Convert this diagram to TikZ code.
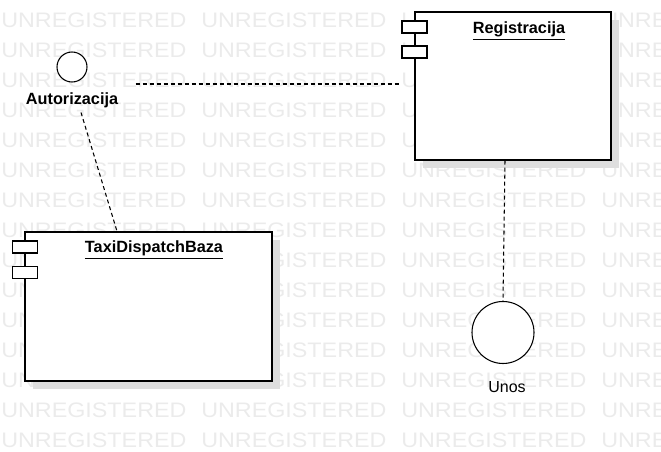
\documentclass[tikz,border=0pt]{standalone}
\usepackage{fontspec}
\setmainfont{Liberation Sans}
\usetikzlibrary{shadows, positioning}

\begin{document}
\begin{tikzpicture}[x=0.75pt,y=-0.75pt,align=center]
\tikzstyle{comp}=[rectangle,draw=black,line width=0.9pt,fill=white,general shadow={fill=black!13,shadow xshift=6pt,shadow yshift=-6pt}]
\tikzstyle{port}=[rectangle,draw=black,line width=0.9pt,fill=white,minimum width=18.75pt,minimum height=9pt,inner sep=0pt]
\tikzstyle{iface}=[circle,draw=black,line width=0.8pt,fill=white,inner sep=0pt]
\tikzstyle{title}=[font=\fontsize{12.2}{14}\selectfont\bfseries,anchor=base]
\tikzstyle{lbl}=[font=\fontsize{12}{14}\selectfont]
\tikzstyle{dep}=[line width=0.8pt,dash pattern=on 3pt off 2.25pt]
\tikzstyle{wm}=[text=black!8,font=\fontsize{15.75}{18}\selectfont,anchor=base west,inner sep=0pt]

\path[use as bounding box,clip] (0,0) rectangle (661,452);

% watermark rows
\foreach \r in {0,...,14}
  \foreach \c in {0,...,3}
    \node[wm] (wm-\r-\c) at (200*\c+1,28+30*\r) {\scalebox{1.11}[1]{UNREGISTERED}};

% components
\node[comp,minimum width=147pt,minimum height=111pt] (reg) at (513,86) {};
\node[port] (reg-p1) at (414.5,27) {};
\node[port] (reg-p2) at (414.5,52) {};
\node[title] (reg-t) at (519,33.5) {\underline{Registracija}};

\node[comp,minimum width=185.25pt,minimum height=111.75pt] (taxi) at (148.5,306.5) {};
\node[port] (taxi-p1) at (25,247) {};
\node[port] (taxi-p2) at (25,272.5) {};
\node[title] (taxi-t) at (154,253) {\underline{TaxiDispatchBaza}};

% interfaces
\node[iface,minimum size=22.5pt] (auth) at (72,67) {};
\node[lbl,font=\fontsize{12.2}{14}\selectfont\bfseries,below=4pt of auth] (auth-l) {Autorizacija};
\node[iface,minimum size=46.5pt] (unos) at (503,332.5) {};
\node[lbl,below=9.6pt of unos,xshift=3pt] (unos-l) {Unos};

\path
  ([xshift=36pt,yshift=-12.75pt]auth.east) edge [dep] ([yshift=-24pt]reg-p2.west)
  ([xshift=6.75pt]auth-l.south) edge [dep] ([xshift=-23.6pt]taxi.north)
  ([xshift=-6pt]reg.south) edge [dep] (unos.north);
\end{tikzpicture}
\end{document}
